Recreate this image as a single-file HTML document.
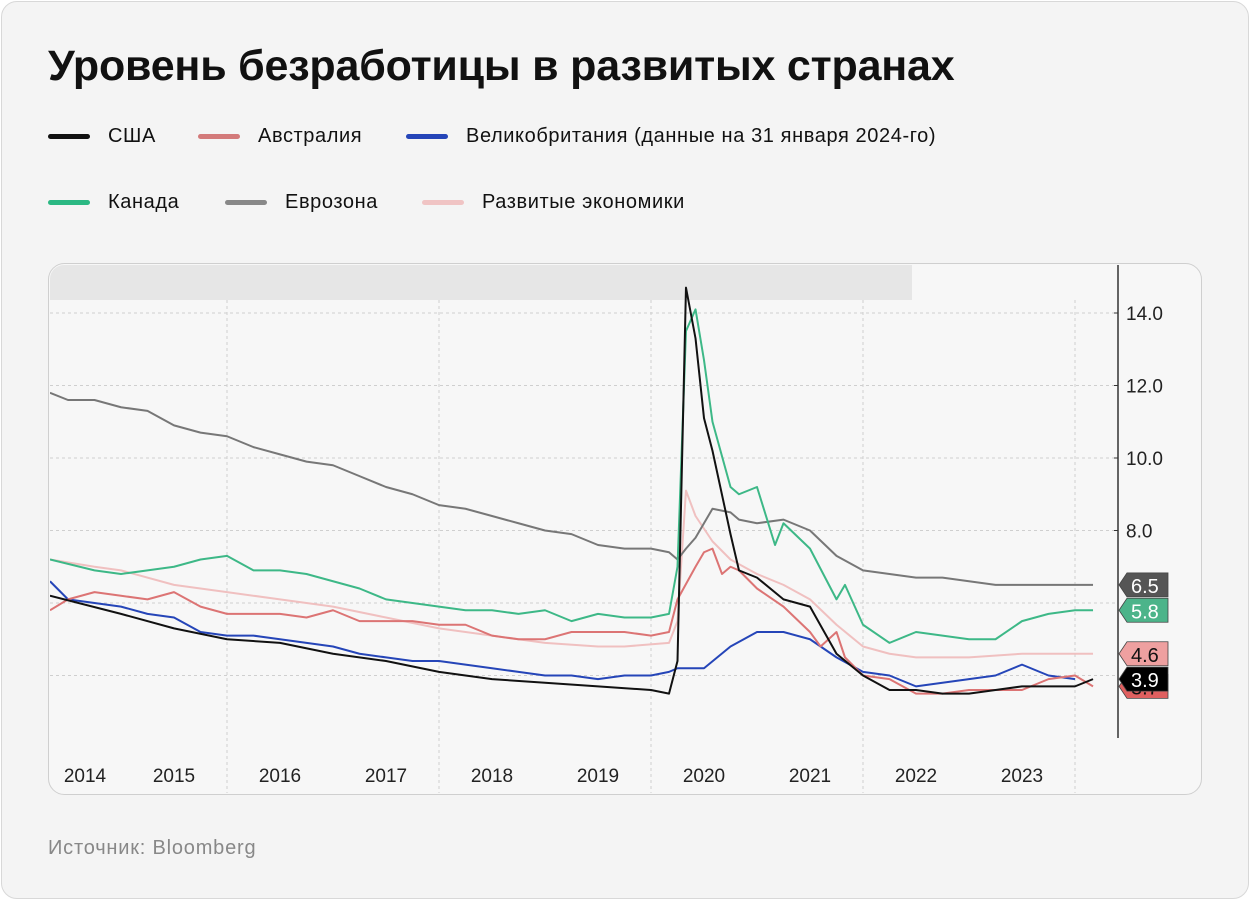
<!DOCTYPE html>
<html><head><meta charset="utf-8"><style>
body{margin:0;width:1250px;height:900px;background:#fff;font-family:"Liberation Sans","DejaVu Sans",sans-serif;}
#card{position:absolute;left:1px;top:1px;width:1246px;height:896px;background:#f4f4f4;border:1px solid #d8d8d8;border-radius:16px;}
h1{position:absolute;left:48px;top:42px;margin:0;font-size:43px;font-weight:bold;color:#111;letter-spacing:-0.2px;}
.leg{position:absolute;font-size:20px;letter-spacing:0.6px;color:#111;display:flex;align-items:center;}
.leg i{display:inline-block;width:42px;height:5px;border-radius:3px;margin-right:18px;}
#src{position:absolute;left:48px;top:837px;font-size:20px;letter-spacing:0.8px;color:#888;}
svg{position:absolute;left:0;top:0;}
</style></head><body>
<div id="card"></div>
<h1>Уровень безработицы в развитых странах</h1>
<div class="leg" style="left:48px;top:125px"><i style="background:#111"></i>США</div>
<div class="leg" style="left:198px;top:125px"><i style="background:#d37a7a"></i>Австралия</div>
<div class="leg" style="left:406px;top:125px"><i style="background:#2545b8"></i>Великобритания (данные на 31 января 2024-го)</div>
<div class="leg" style="left:48px;top:191px"><i style="background:#2bb883"></i>Канада</div>
<div class="leg" style="left:225px;top:191px"><i style="background:#888"></i>Еврозона</div>
<div class="leg" style="left:422px;top:191px"><i style="background:#f0c4c4"></i>Развитые экономики</div>
<div id="src">Источник: Bloomberg</div>
<svg id="chart" width="1250" height="900"></svg>
<script>
const yTicks=[8,10,12,14];
const yearLabels=[2014,2015,2016,2017,2018,2019,2020,2021,2022,2023];
const gridYears=[2016,2018,2020,2022,2024];
const gridVals=[4,6,8,10,12,14];
const usaDates=[2014.33,2015,2015.5,2016,2016.5,2017,2017.5,2018,2018.5,2019,2019.5,2020,2020.17,2020.25,2020.33,2020.42,2020.5,2020.58,2020.75,2020.83,2021,2021.25,2021.5,2021.75,2022,2022.25,2022.5,2022.75,2023,2023.25,2023.5,2023.75,2024,2024.17];
const usaVals=[6.2,5.7,5.3,5.0,4.9,4.6,4.4,4.1,3.9,3.8,3.7,3.6,3.5,4.4,14.7,13.3,11.1,10.2,7.9,6.9,6.7,6.1,5.9,4.6,4.0,3.6,3.6,3.5,3.5,3.6,3.7,3.7,3.7,3.9];
const canDates=[2014.33,2014.75,2015,2015.25,2015.5,2015.75,2016,2016.25,2016.5,2016.75,2017,2017.25,2017.5,2017.75,2018,2018.25,2018.5,2018.75,2019,2019.25,2019.5,2019.75,2020,2020.17,2020.25,2020.33,2020.42,2020.5,2020.58,2020.75,2020.83,2021,2021.17,2021.25,2021.5,2021.75,2021.83,2022,2022.25,2022.5,2022.75,2023,2023.25,2023.5,2023.75,2024,2024.17];
const canVals=[7.2,6.9,6.8,6.9,7.0,7.2,7.3,6.9,6.9,6.8,6.6,6.4,6.1,6.0,5.9,5.8,5.8,5.7,5.8,5.5,5.7,5.6,5.6,5.7,7.0,13.5,14.1,12.7,11.0,9.2,9.0,9.2,7.6,8.2,7.5,6.1,6.5,5.4,4.9,5.2,5.1,5.0,5.0,5.5,5.7,5.8,5.8];
const euDates=[2014.33,2014.5,2014.75,2015,2015.25,2015.5,2015.75,2016,2016.25,2016.5,2016.75,2017,2017.25,2017.5,2017.75,2018,2018.25,2018.5,2018.75,2019,2019.25,2019.5,2019.75,2020,2020.17,2020.25,2020.33,2020.42,2020.5,2020.58,2020.75,2020.83,2021,2021.25,2021.5,2021.75,2022,2022.25,2022.5,2022.75,2023,2023.25,2023.5,2024.17];
const euVals=[11.8,11.6,11.6,11.4,11.3,10.9,10.7,10.6,10.3,10.1,9.9,9.8,9.5,9.2,9.0,8.7,8.6,8.4,8.2,8.0,7.9,7.6,7.5,7.5,7.4,7.2,7.5,7.8,8.2,8.6,8.5,8.3,8.2,8.3,8.0,7.3,6.9,6.8,6.7,6.7,6.6,6.5,6.5,6.5];
const ausDates=[2014.33,2014.5,2014.75,2015,2015.25,2015.5,2015.75,2016,2016.25,2016.5,2016.75,2017,2017.25,2017.5,2017.75,2018,2018.25,2018.5,2018.75,2019,2019.25,2019.5,2019.75,2020,2020.17,2020.25,2020.42,2020.5,2020.58,2020.67,2020.75,2020.83,2021,2021.25,2021.5,2021.6,2021.75,2021.83,2022,2022.25,2022.5,2022.75,2023,2023.25,2023.5,2023.75,2024,2024.17];
const ausVals=[5.8,6.1,6.3,6.2,6.1,6.3,5.9,5.7,5.7,5.7,5.6,5.8,5.5,5.5,5.5,5.4,5.4,5.1,5.0,5.0,5.2,5.2,5.2,5.1,5.2,6.1,7.0,7.4,7.5,6.8,7.0,6.9,6.4,5.9,5.2,4.8,5.2,4.5,4.0,3.9,3.5,3.5,3.6,3.6,3.6,3.9,4.0,3.7];
const ukDates=[2014.33,2014.5,2014.75,2015,2015.25,2015.5,2015.75,2016,2016.25,2016.5,2016.75,2017,2017.25,2017.5,2017.75,2018,2018.25,2018.5,2018.75,2019,2019.25,2019.5,2019.75,2020,2020.17,2020.25,2020.5,2020.75,2021,2021.25,2021.5,2021.75,2022,2022.25,2022.5,2022.75,2023,2023.25,2023.5,2023.75,2024];
const ukVals=[6.6,6.1,6.0,5.9,5.7,5.6,5.2,5.1,5.1,5.0,4.9,4.8,4.6,4.5,4.4,4.4,4.3,4.2,4.1,4.0,4.0,3.9,4.0,4.0,4.1,4.2,4.2,4.8,5.2,5.2,5.0,4.5,4.1,4.0,3.7,3.8,3.9,4.0,4.3,4.0,3.9];
const devDates=[2014.33,2014.75,2015,2015.5,2016,2016.5,2017,2017.5,2018,2018.5,2019,2019.5,2019.75,2020.17,2020.25,2020.33,2020.42,2020.58,2020.75,2021,2021.25,2021.5,2021.75,2022,2022.25,2022.5,2023,2023.5,2024.17];
const devVals=[7.2,7.0,6.9,6.5,6.3,6.1,5.9,5.6,5.3,5.1,4.9,4.8,4.8,4.9,5.5,9.1,8.4,7.7,7.2,6.8,6.5,6.1,5.4,4.8,4.6,4.5,4.5,4.6,4.6];
const badges=[[6.5,"6.5","#555","#fff"],[5.8,"5.8","#4cb48a","#fff"],[4.6,"4.6","#eea0a0","#111"],[3.7,"3.7","#e06060","#111"],[3.9,"3.9","#000","#fff"]];

const NS="http://www.w3.org/2000/svg";
const svg=document.getElementById('chart');
const X=t=>227+(t-2016)*106;
const Y=v=>313+(14-v)*36.25;
function el(tag,attrs,parent){const e=document.createElementNS(NS,tag);for(const k in attrs)e.setAttribute(k,attrs[k]);(parent||svg).appendChild(e);return e;}
const defs=el('defs',{});
const cp=el('clipPath',{id:'cp'},defs);el('rect',{x:50,y:265,width:1068,height:528},cp);
let r=el('rect',{x:48.5,y:263.5,width:1153,height:531,rx:16,fill:'#f7f7f7',stroke:'#cfcfcf'});


r=el('path',{d:'M50,300 V279 a14,14 0 0 1 14,-14 H912 V300 Z',fill:'#e6e6e6'});


const g=el('g',{'clip-path':'url(#cp)'});
gridVals.forEach(v=>{const l=el('line',{x1:50,x2:1118,y1:Y(v),y2:Y(v),stroke:'#cfcfcf','stroke-dasharray':'3,3'},g);

});
gridYears.forEach(t=>{const l=el('line',{x1:X(t),x2:X(t),y1:300,y2:795,stroke:'#cfcfcf','stroke-dasharray':'3,3'},g);

});
const series=[[devDates,devVals,'#f0c0c0','developed-line'],[euDates,euVals,'#777','eurozone-line'],[canDates,canVals,'#3db887','canada-line'],[ukDates,ukVals,'#2545b8','uk-line'],[ausDates,ausVals,'#dc7474','australia-line'],[usaDates,usaVals,'#111','usa-line']];
series.forEach(([d,v,c,n])=>{const p=el('polyline',{points:d.map((t,i)=>X(t)+','+Y(v[i])).join(' '),fill:'none',stroke:c,'stroke-width':2,'stroke-linejoin':'round'},g);

});
let ax=el('line',{x1:1118,x2:1118,y1:265,y2:738,stroke:'#333','stroke-width':1.5});


yTicks.forEach(v=>{el('line',{x1:1114,x2:1118,y1:Y(v),y2:Y(v),stroke:'#333'});const t=el('text',{x:1126,y:Y(v)+7,'font-size':19,fill:'#222'});t.textContent=v.toFixed(1);

});
yearLabels.forEach(yr=>{const t=el('text',{x:Math.max(X(yr+0.5),85),y:782,'font-size':19,fill:'#222','text-anchor':'middle'});t.textContent=yr;

});
badges.forEach(([v,s,bg,fg])=>{const y=Y(v);const gg=el('g',{});


el('path',{d:`M1119,${y} L1127,${y-12} H1168 V${y+12} H1127 Z`,fill:bg,stroke:'#444','stroke-width':0.8},gg);
const t=el('text',{x:1131,y:y+8,'font-size':20,fill:fg},gg);t.textContent=s;});
</script>
</body></html>
